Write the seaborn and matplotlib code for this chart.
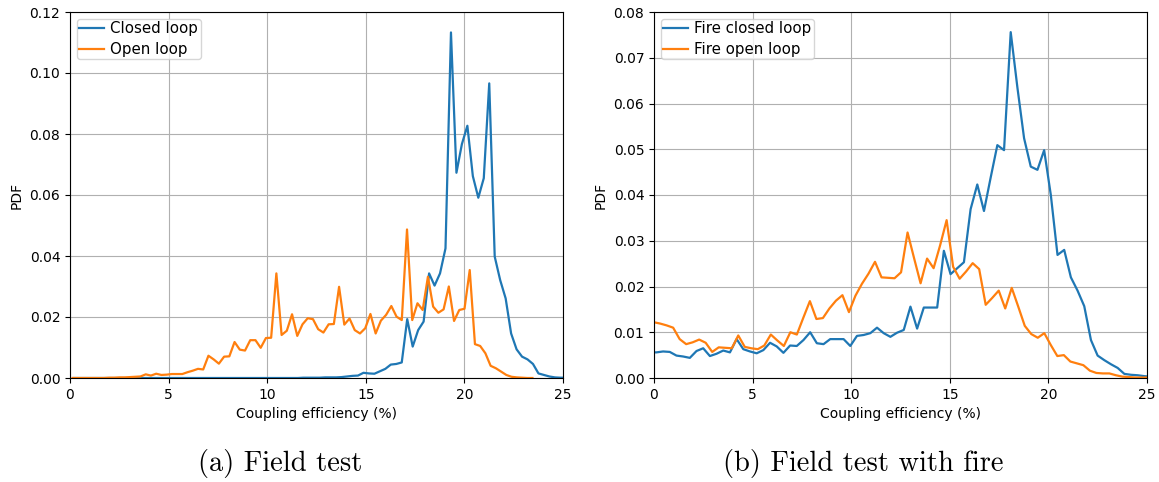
import numpy as np
import pandas as pd
import matplotlib
matplotlib.use("Agg")
import matplotlib.pyplot as plt
import seaborn as sns

# ---------------- data (PDF values per histogram bin) ----------------
# (a) Field test
a_closed_start, a_closed_step = 0.185, 0.2773
a_closed_pdf = [
    0, 0, 0, 0, 0, 0, 0, 0, 0, 0,
    0, 0, 0, 0, 0, 0, 0, 0, 0, 0,
    0, 0, 0, 0, 0, 0, 0, 0, 0, 0,
    0, 0, 0, 0, 0, 0, 0, 0, 0, 0,
    0, 0, 0.0001, 0.0001, 0.0001, 0.0001, 0.0002, 0.0002, 0.0002, 0.0003,
    0.0005, 0.0007, 0.0008, 0.0017, 0.0015, 0.0014, 0.0022, 0.0030, 0.0044, 0.0046,
    0.0051, 0.0193, 0.0103, 0.0157, 0.0185, 0.0343, 0.0303, 0.0343, 0.0425, 0.1133,
    0.0673, 0.0767, 0.0827, 0.0662, 0.0591, 0.0655, 0.0966, 0.0398, 0.0321, 0.0261,
    0.0146, 0.0094, 0.0070, 0.0061, 0.0046, 0.0015, 0.0010, 0.0005, 0.0002, 0.0001,
    0.0001,
]
a_open_start, a_open_step = 0.13, 0.265
a_open_pdf = [
    0, 0, 0, 0, 0, 0, 0, 0.0001, 0.0001, 0.0002,
    0.0002, 0.0003, 0.0004, 0.0005, 0.0012, 0.0008, 0.0014, 0.0010, 0.0011, 0.0013,
    0.0013, 0.0013, 0.0019, 0.0024, 0.0030, 0.0028, 0.0073, 0.0061, 0.0047, 0.0070,
    0.0071, 0.0118, 0.0093, 0.0090, 0.0124, 0.0124, 0.0099, 0.0131, 0.0132, 0.0343,
    0.0141, 0.0155, 0.0209, 0.0138, 0.0176, 0.0196, 0.0193, 0.0160, 0.0149, 0.0176,
    0.0177, 0.0299, 0.0175, 0.0195, 0.0157, 0.0146, 0.0163, 0.0210, 0.0146, 0.0188,
    0.0207, 0.0236, 0.0201, 0.0190, 0.0487, 0.0190, 0.0245, 0.0223, 0.0332, 0.0234,
    0.0214, 0.0225, 0.0300, 0.0187, 0.0223, 0.0227, 0.0354, 0.0111, 0.0105, 0.0081,
    0.0040, 0.0032, 0.0021, 0.0010, 0.0004, 0.0002, 0.0001, 0, 0,
]

# (b) Field test with fire
b_closed_start, b_closed_step = -0.217, 0.339
b_closed_pdf = [
    0.0056, 0.0056, 0.0058, 0.0057, 0.0049, 0.0047, 0.0044, 0.0059, 0.0065, 0.0048,
    0.0053, 0.0060, 0.0056, 0.0085, 0.0063, 0.0058, 0.0054, 0.0061, 0.0077, 0.0069,
    0.0055, 0.0071, 0.0070, 0.0083, 0.0100, 0.0076, 0.0074, 0.0085, 0.0085, 0.0085,
    0.0070, 0.0092, 0.0094, 0.0098, 0.0110, 0.0098, 0.0090, 0.0099, 0.0105, 0.0156,
    0.0108, 0.0154, 0.0154, 0.0154, 0.0278, 0.0227, 0.0240, 0.0253, 0.0369, 0.0423,
    0.0365, 0.0438, 0.0509, 0.0498, 0.0756, 0.0635, 0.0524, 0.0462, 0.0455, 0.0498,
    0.0400, 0.0269, 0.0280, 0.0220, 0.0191, 0.0157, 0.0083, 0.0049, 0.0039, 0.0030,
    0.0022, 0.0009, 0.0007, 0.0006, 0.0004, 0.0003,
]
b_open_start, b_open_step = -0.02, 0.3302
b_open_pdf = [
    0.0122, 0.0119, 0.0115, 0.0110, 0.0085, 0.0074, 0.0078, 0.0084, 0.0077, 0.0057,
    0.0067, 0.0066, 0.0065, 0.0093, 0.0068, 0.0065, 0.0063, 0.0071, 0.0095, 0.0082,
    0.0070, 0.0100, 0.0095, 0.0132, 0.0168, 0.0129, 0.0131, 0.0152, 0.0169, 0.0181,
    0.0144, 0.0180, 0.0206, 0.0228, 0.0254, 0.0220, 0.0219, 0.0218, 0.0231, 0.0318,
    0.0262, 0.0207, 0.0261, 0.0240, 0.0290, 0.0345, 0.0243, 0.0217, 0.0233, 0.0251,
    0.0238, 0.0160, 0.0175, 0.0191, 0.0152, 0.0197, 0.0156, 0.0114, 0.0096, 0.0088,
    0.0098, 0.0072, 0.0048, 0.0050, 0.0036, 0.0032, 0.0028, 0.0016, 0.0011, 0.0010,
    0.0010, 0.0006, 0.0003, 0.0002, 0.0001, 0.0001, 0.0001,
]

labels_a = ["Closed loop", "Open loop"]
labels_b = ["Fire closed loop", "Fire open loop"]
captions = ["(a) Field test", "(b) Field test with fire"]
xlabel = "Coupling efficiency (%)"
ylabel = "PDF"


def bins(start, step, values):
    return start + step * np.arange(len(values))


def frame(start, step, values, label):
    return pd.DataFrame({"x": bins(start, step, values), "pdf": values, "series": label})


# ---------------- figure ----------------
plt.rcParams["font.family"] = ["DejaVu Sans"]
fig = plt.figure(figsize=(11.59, 4.82), dpi=100)
W, H = 1159, 482
ax_a = fig.add_axes([70 / W, 1 - 378 / H, 493 / W, 366 / H])
ax_b = fig.add_axes([654 / W, 1 - 378 / H, 493 / W, 366 / H])

panels = [
    (ax_a, [(a_closed_start, a_closed_step, a_closed_pdf), (a_open_start, a_open_step, a_open_pdf)], labels_a, 0.12, 0.02),
    (ax_b, [(b_closed_start, b_closed_step, b_closed_pdf), (b_open_start, b_open_step, b_open_pdf)], labels_b, 0.08, 0.01),
]
colors = ["#1f77b4", "#ff7f0e"]

for ax, series, labels, ymax, ystep in panels:
    for (start, step, vals), lab, col in zip(series, labels, colors):
        df = frame(start, step, vals, lab)
        sns.lineplot(data=df, x="x", y="pdf", ax=ax, color=col, label=lab,
                     linewidth=1.6, sort=True, errorbar=None)
    ax.set_xlim(0, 25)
    ax.set_ylim(0, ymax)
    ax.set_xticks(np.arange(0, 26, 5))
    ax.set_yticks(np.arange(0, ymax + ystep / 2, ystep))
    ax.yaxis.set_major_formatter(matplotlib.ticker.FormatStrFormatter("%.2f"))
    ax.grid(True, color="#b0b0b0", linewidth=0.8)
    ax.set_axisbelow(True)
    ax.set_xlabel(xlabel, fontsize=10)
    ax.set_ylabel(ylabel, fontsize=10)
    ax.tick_params(labelsize=10)
    ax.legend(loc="upper left", fontsize=10.8, borderaxespad=0.45,
              borderpad=0.15, handlelength=1.65, handletextpad=0.45,
              labelspacing=0.4)

fig.text(280 / W, 1 - 464 / H, captions[0], ha="center", va="center",
         fontsize=20.5, family=["cmr10", "DejaVu Serif"])
fig.text(863 / W, 1 - 464 / H, captions[1], ha="center", va="center",
         fontsize=20.5, family=["cmr10", "DejaVu Serif"])

fig.savefig("out.png", dpi=100)
